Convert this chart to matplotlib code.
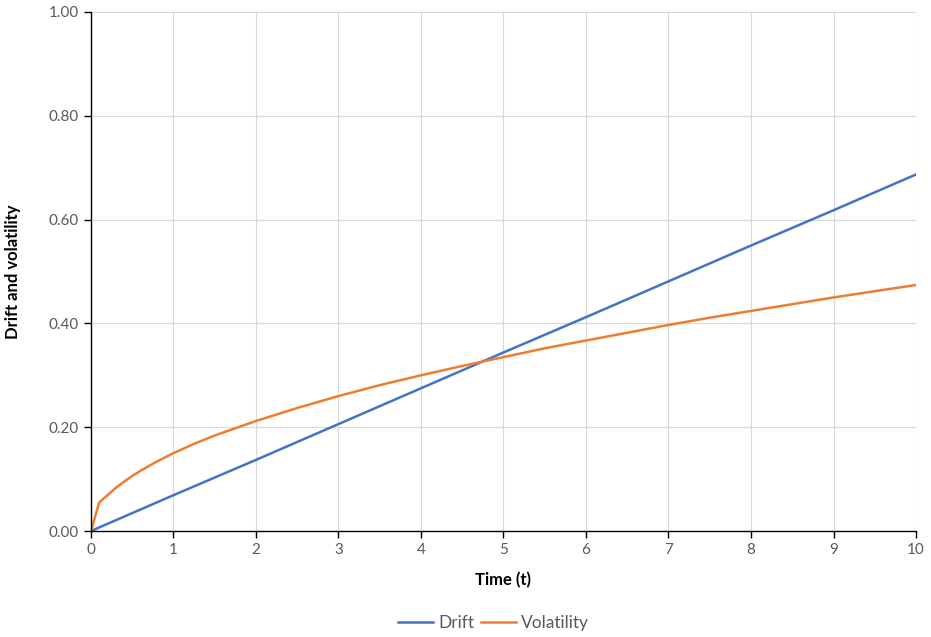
import matplotlib.pyplot as plt

plt.rcParams["font.family"] = ["Lato", "DejaVu Sans"]

# values
t_drift = [0, 1, 2, 3, 4, 5, 6, 7, 8, 9, 10]
drift = [0, 0.069, 0.137, 0.206, 0.275, 0.344, 0.412, 0.481, 0.550, 0.618, 0.687]

t_vol = [0, 0.1, 0.2, 0.3, 0.4, 0.5, 0.6, 0.7, 0.8, 0.9, 1, 1.25, 1.5, 1.75,
         2, 2.5, 3, 3.5, 4, 4.5, 5, 5.5, 6, 6.5, 7, 7.5, 8, 8.5, 9, 9.5, 10]
volatility = [0, 0.055, 0.069, 0.083, 0.095, 0.106, 0.116, 0.125, 0.134,
              0.142, 0.15, 0.168, 0.184, 0.198, 0.212, 0.237, 0.26, 0.281,
              0.30, 0.318, 0.335, 0.352, 0.367, 0.382, 0.397, 0.411, 0.424,
              0.437, 0.45, 0.462, 0.474]

x_ticks = list(range(0, 11))
y_ticks = [0, 0.2, 0.4, 0.6, 0.8, 1.0]

fig = plt.figure(figsize=(9.31, 6.37), dpi=100)
ax = fig.add_axes([0.0977, 0.1664, 0.8862, 0.8148])

ax.plot(t_drift, drift, color="#4472C4", lw=1.8, label="Drift")
ax.plot(t_vol, volatility, color="#ED7D31", lw=1.8, label="Volatility")

ax.set_xlim(0, 10)
ax.set_ylim(0, 1)
ax.set_xticks(x_ticks)
ax.set_yticks(y_ticks)
ax.set_yticklabels([f"{v:.2f}" for v in y_ticks])
ax.grid(True, color="#D9D9D9", lw=0.8)
ax.set_axisbelow(True)

for s in ["top", "right"]:
    ax.spines[s].set_visible(False)
for s in ["left", "bottom"]:
    ax.spines[s].set_color("black")
    ax.spines[s].set_linewidth(1.0)

ax.tick_params(axis="both", colors="black", labelcolor="#595959",
               labelsize=11, length=5, width=1, direction="out")

ax.set_xlabel("Time (t)", fontsize=12, fontweight="bold", labelpad=11)
ax.set_ylabel("Drift and volatility", fontsize=12, fontweight="bold", labelpad=20)

fig.legend(loc="center", bbox_to_anchor=(0.53, 0.022), ncol=2, frameon=False,
           fontsize=12.5, handlelength=2.0, handletextpad=0.3, columnspacing=0.4,
           labelcolor="#595959")

fig.savefig("out.png", dpi=100)
